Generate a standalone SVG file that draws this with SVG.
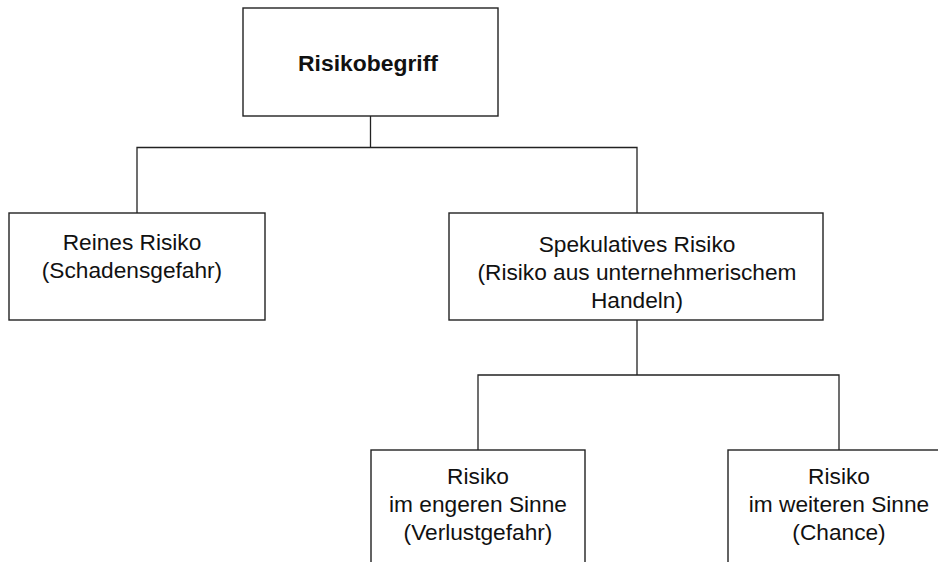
<svg xmlns="http://www.w3.org/2000/svg" width="938" height="562" viewBox="0 0 938 562">
<style>
.box{fill:#fff;stroke:#222;stroke-width:1.4}
.conn{fill:none;stroke:#222;stroke-width:1.3}
text{font-family:"Liberation Sans",Arial,sans-serif;font-size:22.7px;fill:#111;text-anchor:middle}
.b{font-weight:bold;font-size:22.9px}
</style>
<rect width="938" height="562" fill="#fff"/>
<g id="connectors">
<path class="conn" d="M370.5 116 V147.5 M137 213 V147.5 H637 V213"/>
<path class="conn" d="M637 320 V375 M478 450 V375 H839 V450"/>
</g>
<g id="n-risikobegriff">
<rect class="box" x="243" y="8" width="255" height="108"/>
<text class="b" x="368" y="71">Risikobegriff</text>
</g>
<g id="n-reines">
<rect class="box" x="9" y="213" width="256" height="107"/>
<text x="132" y="250">Reines Risiko</text>
<text x="132" y="278">(Schadensgefahr)</text>
</g>
<g id="n-spekulativ">
<rect class="box" x="449" y="213" width="374" height="107"/>
<text x="637" y="252">Spekulatives Risiko</text>
<text x="637" y="280">(Risiko aus unternehmerischem</text>
<text x="637" y="308">Handeln)</text>
</g>
<g id="n-engeren">
<rect class="box" x="371" y="450" width="214" height="130"/>
<text x="478" y="484">Risiko</text>
<text x="478" y="512">im engeren Sinne</text>
<text x="478" y="540">(Verlustgefahr)</text>
</g>
<g id="n-weiteren">
<rect class="box" x="728" y="450" width="222" height="130"/>
<text x="839" y="484">Risiko</text>
<text x="839" y="512">im weiteren Sinne</text>
<text x="839" y="540">(Chance)</text>
</g>
</svg>
